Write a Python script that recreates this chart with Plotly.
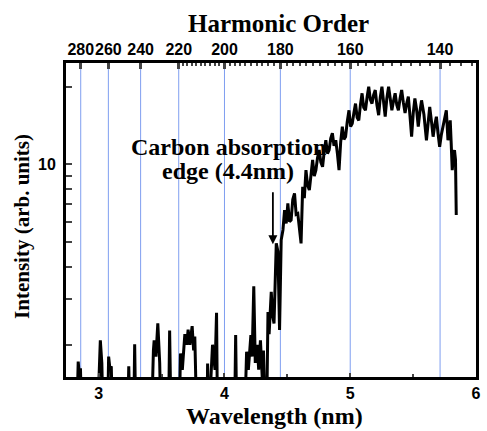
import math
import plotly.graph_objects as go

# Spectrum: wavelength (nm) and intensity (arb. units); 1.0 marks the noise floor
wavelength = [
    2.80, 2.825, 2.837, 2.845, 2.855, 2.865,
    2.99, 3.005, 3.013, 3.025, 3.035,
    3.07, 3.079, 3.09, 3.10, 3.11,
    3.23, 3.239, 3.25,
    3.278, 3.286, 3.295,
    3.42, 3.435, 3.441, 3.455, 3.47, 3.485, 3.495,
    3.555, 3.564, 3.575,
    3.64, 3.65, 3.665, 3.685, 3.70, 3.711, 3.725, 3.743, 3.755, 3.764, 3.78,
    3.86, 3.866, 3.875, 3.89, 3.905, 3.925, 3.937, 3.945,
    4.08, 4.089, 4.098,
    4.16, 4.176, 4.19, 4.21, 4.22, 4.233, 4.245, 4.26, 4.272, 4.286, 4.30, 4.31, 4.325,
    4.335, 4.346, 4.355, 4.372, 4.383, 4.394, 4.405, 4.412, 4.425, 4.438, 4.451,
    4.465, 4.478, 4.491, 4.504, 4.517, 4.530, 4.543, 4.557, 4.570, 4.583, 4.596,
    4.609, 4.622, 4.635, 4.648, 4.661, 4.675, 4.688, 4.701, 4.714, 4.727, 4.740,
    4.753, 4.766, 4.780, 4.793, 4.806, 4.819, 4.832, 4.845, 4.858, 4.871, 4.885,
    4.898, 4.911, 4.924, 4.937, 4.950, 4.963, 4.976, 4.990, 5.003, 5.016, 5.029,
    5.042, 5.055, 5.068, 5.081, 5.094, 5.107, 5.121, 5.134, 5.147, 5.160, 5.173,
    5.186, 5.199, 5.212, 5.226, 5.239, 5.252, 5.265, 5.278, 5.291, 5.305, 5.318,
    5.331, 5.344, 5.357, 5.370, 5.383, 5.396, 5.409, 5.422, 5.436, 5.449, 5.462,
    5.475, 5.488, 5.501, 5.514, 5.527, 5.541, 5.554, 5.567, 5.586, 5.606, 5.619,
    5.632, 5.645, 5.659, 5.672, 5.685, 5.698, 5.711, 5.724, 5.738, 5.751, 5.764,
    5.777, 5.786, 5.795, 5.803, 5.811, 5.820, 5.829, 5.837, 5.843,
]
intensity = [
    1.0, 1.0, 1.72, 1.55, 1.62, 1.0,
    1.0, 1.9, 2.08, 1.7, 1.0,
    1.0, 1.80, 1.6, 1.65, 1.0,
    1.0, 1.65, 1.0,
    1.0, 2.01, 1.0,
    1.0, 1.9, 2.08, 1.8, 2.42, 1.7, 1.0,
    1.0, 2.27, 1.0,
    1.0, 1.85, 1.6, 2.2, 2.0, 2.29, 2.0, 2.36, 1.9, 2.15, 1.0,
    1.0, 1.69, 1.0, 1.5, 2.0, 1.6, 2.66, 1.0,
    1.0, 2.18, 1.0,
    1.0, 1.88, 1.6, 2.18, 1.8, 3.37, 1.7, 2.0, 1.6, 2.08, 1.5, 1.9, 1.0,
    1.0, 2.68, 2.2, 3.21, 2.6, 2.42, 4.2, 4.94, 4.6, 2.28, 5.09,
    5.57, 6.65, 5.9, 7.06, 6.0, 6.08, 7.3, 7.72, 6.4, 6.45, 5.6,
    4.94, 8.19, 7.4, 9.50, 8.3, 7.95, 9.2, 10.4, 9.0, 9.5, 10.6,
    11.36, 10.2, 9.79, 11.2, 12.4, 11.0, 11.36, 12.6, 13.2, 11.8, 12.4,
    11.0, 9.5, 12.2, 13.99, 12.5, 12.8, 14.6, 16.2, 14.0, 14.4, 15.8,
    17.2, 15.2, 14.8, 17.0, 18.85, 16.6, 16.2, 18.2, 19.99, 17.8, 17.2,
    18.6, 19.4, 17.0, 15.5, 18.2, 20.0, 17.5, 15.3, 18.0, 20.0, 18.0,
    16.2, 17.6, 18.85, 17.0, 16.2, 18.0, 19.4, 17.4, 15.8, 17.2, 18.3,
    15.4, 12.8, 15.8, 18.0, 16.4, 14.0, 16.0, 17.7, 15.6, 12.4, 14.4,
    16.7, 14.8, 12.8, 14.2, 15.3, 13.2, 11.7, 13.0, 14.0, 15.2, 16.2,
    12.4, 13.6, 14.8, 12.0, 9.5, 10.6, 11.36, 10.4, 6.36,
]

# Harmonic orders shown on the top axis (lambda = 800 nm / q)
harmonic_orders = [280, 260, 240, 220, 200, 180, 160, 140]
minor_orders = list(range(134, 222, 2))
drive_wavelength = 800.0

y_tick_values = [2, 3, 4, 5, 6, 7, 8, 9, 10, 20]
y_tick_labels = ["", "", "", "", "", "", "", "", "10", ""]
x_tick_values = [3, 4, 5, 6]
x_minor_values = [3.5, 4.5, 5.5]

x_range = [2.74, 6.0]
y_range = [1.5, 24.7]

edge_wavelength = 4.385
edge_arrow = [7.9, 4.9]  # arrow tail / tip intensity
edge_label_lines = ["Carbon absorption", "edge (4.4nm)"]
edge_label_x = [4.035, 4.025]
edge_label_y = [11.7, 9.4]

major_pos = [drive_wavelength / q for q in harmonic_orders]
minor_pos = [drive_wavelength / q for q in minor_orders if q not in harmonic_orders]

serif = "Liberation Serif"
sans = "Liberation Sans"

fig = go.Figure()

fig.add_trace(go.Scatter(
    x=wavelength, y=intensity, mode="lines",
    line=dict(color="black", width=3), showlegend=False, hoverinfo="skip",
))
# invisible traces to attach the top axes
fig.add_trace(go.Scatter(x=major_pos, y=[2] * len(major_pos), xaxis="x2",
                         mode="markers", marker=dict(opacity=0), showlegend=False,
                         hoverinfo="skip"))
fig.add_trace(go.Scatter(x=minor_pos, y=[2] * len(minor_pos), xaxis="x3",
                         mode="markers", marker=dict(opacity=0), showlegend=False,
                         hoverinfo="skip"))

# thin blue guides at each labelled harmonic
for xp in major_pos:
    fig.add_shape(type="line", xref="x", yref="paper", x0=xp, x1=xp, y0=0, y1=1,
                  line=dict(color="#7f9ef0", width=1), layer="below")

# annotation coordinates on a log axis are given as log10 values
for line_text, lx, ly in zip(edge_label_lines, edge_label_x, edge_label_y):
    fig.add_annotation(
        x=lx, y=math.log10(ly), xref="x", yref="y",
        text=f"<b>{line_text}</b>", showarrow=False,
        font=dict(family=serif, size=24, color="black"),
        xanchor="center", yanchor="middle",
    )
fig.add_annotation(
    x=edge_wavelength, y=math.log10(edge_arrow[1]),
    ax=edge_wavelength, ay=math.log10(edge_arrow[0]),
    xref="x", yref="y", axref="x", ayref="y",
    text="", showarrow=True, arrowhead=2, arrowsize=1, arrowwidth=1.8, arrowcolor="black",
)

fig.add_annotation(text="<b>Harmonic Order</b>", xref="paper", yref="paper",
                   x=0.5, y=1.0, yshift=40, xanchor="center", yanchor="middle",
                   showarrow=False, xshift=7,
                   font=dict(family=serif, size=25, color="black"))
fig.add_annotation(text="<b>Wavelength (nm)</b>", xref="paper", yref="paper",
                   x=0.5, y=0.0, yshift=-53, xanchor="center", yanchor="bottom",
                   showarrow=False, xshift=3, borderpad=0,
                   font=dict(family=serif, size=24, color="black"))
fig.add_annotation(text="<b>Intensity (arb. units)</b>", xref="paper", yref="paper",
                   x=0.0, y=0.478, xshift=-44, xanchor="center", yanchor="middle",
                   textangle=-90, showarrow=False,
                   font=dict(family=serif, size=21, color="black"))

tick_font = dict(family=sans, size=16, color="black", weight="bold")

fig.update_layout(
    width=487, height=431,
    margin=dict(l=66, r=6, t=63, b=54),
    paper_bgcolor="white", plot_bgcolor="white",
    xaxis=dict(
        range=x_range, tickvals=x_tick_values, ticks="inside", ticklen=4, tickwidth=2,
        minor=dict(tickvals=x_minor_values, ticks="inside", ticklen=3, tickwidth=2),
        showgrid=False, zeroline=False, showline=True, linecolor="black", linewidth=3,
        mirror=True, tickfont=tick_font, ticklabelstandoff=0, tickangle=0,
    ),
    xaxis2=dict(
        overlaying="x", side="top", range=x_range, tickvals=major_pos,
        ticktext=[str(q) for q in harmonic_orders], ticks="inside", ticklen=6, tickwidth=2.5,
        showgrid=False, zeroline=False, showline=False, tickfont=tick_font,
        ticklabelstandoff=4, tickangle=0,
    ),
    xaxis3=dict(
        overlaying="x", side="top", range=x_range, tickvals=minor_pos, ticks="inside",
        ticklen=3, tickwidth=1.5, showticklabels=False, showgrid=False, zeroline=False,
        showline=False,
    ),
    yaxis=dict(
        type="log", range=[math.log10(v) for v in y_range],
        tickvals=y_tick_values, ticktext=y_tick_labels, ticks="inside", ticklen=6, tickwidth=2,
        showgrid=False, zeroline=False, showline=True, linecolor="black", linewidth=3,
        mirror=True, tickfont=tick_font, ticklabelstandoff=4,
    ),
)

fig.write_html("out.html")
